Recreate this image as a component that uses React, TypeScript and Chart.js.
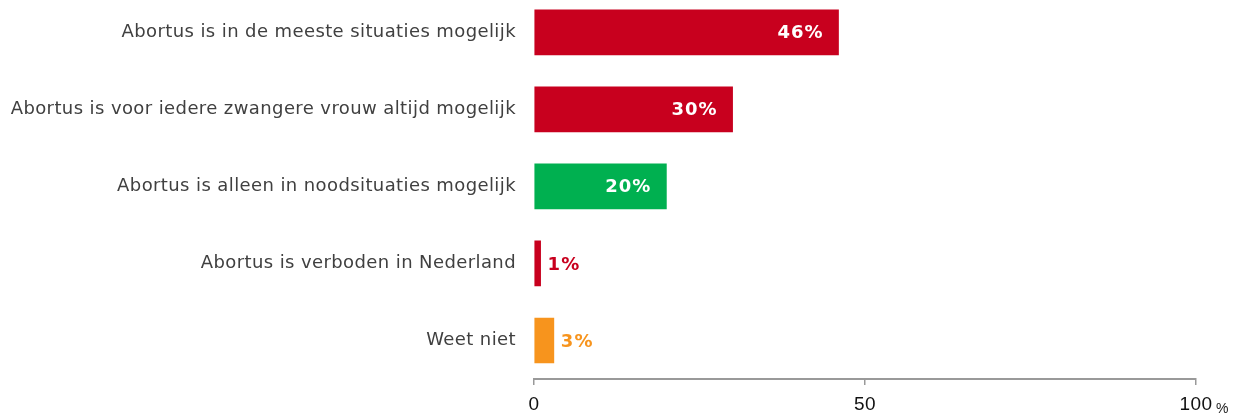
import React, { useEffect, useRef } from "react";
import { Chart, registerables } from "chart.js";

Chart.register(...registerables);

const categories = [
  "Abortus is in de meeste situaties mogelijk",
  "Abortus is voor iedere zwangere vrouw altijd mogelijk",
  "Abortus is alleen in noodsituaties mogelijk",
  "Abortus is verboden in Nederland",
  "Weet niet",
];
const values = [46, 30, 20, 1, 3];
const barColors = ["#C8001E", "#C8001E", "#00B050", "#C8001E", "#F7941D"];
const tickValues = [0, 50, 100];

const spacingPlugin = {
  id: "spacing",
  beforeDraw(chart: any) {
    (chart.ctx as any).letterSpacing = "0.4px";
  },
  beforeDatasetsDraw(chart: any) {
    (chart.ctx as any).letterSpacing = "0px";
  },
};

const valueLabelPlugin = {
  id: "valueLabels",
  afterDatasetsDraw(chart: any) {
    const { ctx } = chart;
    const meta = chart.getDatasetMeta(0);
    ctx.save();
    ctx.font = "bold 18px 'DejaVu Sans'";
    (ctx as any).letterSpacing = "1px";
    ctx.textBaseline = "middle";
    meta.data.forEach((bar: any, i: number) => {
      const v = values[i];
      const text = v + "%";
      if (v >= 10) {
        ctx.fillStyle = "#FFFFFF";
        ctx.textAlign = "right";
        ctx.fillText(text, bar.x - 15, bar.y + 1);
      } else {
        ctx.fillStyle = barColors[i];
        ctx.textAlign = "left";
        ctx.fillText(text, bar.x + 7, bar.y + 2);
      }
    });
    (ctx as any).letterSpacing = "0px";
    const xs = chart.scales.x;
    const px = xs.getPixelForValue(tickValues[tickValues.length - 1]);
    ctx.font = "14px 'Liberation Sans'";
    ctx.fillStyle = "#222222";
    ctx.textAlign = "left";
    ctx.textBaseline = "alphabetic";
    ctx.fillText("%", px + 20, xs.bottom - 2);
    ctx.restore();
  },
};

export default function App() {
  const ref = useRef<HTMLCanvasElement>(null);
  useEffect(() => {
    if (!ref.current) return;
    const chart = new Chart(ref.current, {
      type: "bar",
      data: {
        labels: categories,
        datasets: [
          {
            data: values,
            backgroundColor: barColors,
            borderWidth: 0,
            barThickness: 45,
          },
        ],
      },
      options: {
        indexAxis: "y",
        animation: false,
        responsive: false,
        maintainAspectRatio: false,
        layout: { padding: { left: 0, right: 46, top: 0, bottom: 0 } },
        plugins: {
          legend: { display: false },
          tooltip: { enabled: false },
        },
        scales: {
          x: {
            type: "linear",
            min: 0,
            max: 100,
            afterBuildTicks: (scale: any) => {
              scale.ticks = tickValues.map((v) => ({ value: v }));
            },
            afterFit: (scale: any) => {
              scale.height = 36;
            },
            grid: {
              drawOnChartArea: false,
              drawTicks: true,
              tickLength: 6,
              color: "#999999",
              lineWidth: 1.5,
            },
            border: { display: true, color: "#999999", width: 2 },
            ticks: {
              color: "#111111",
              font: { family: "'Liberation Sans'", size: 19 },
              padding: 8,
              maxRotation: 0,
            },
          },
          y: {
            afterFit: (scale: any) => {
              scale.width = 534;
            },
            grid: { display: false, drawTicks: false },
            border: { display: false },
            ticks: {
              color: "#404040",
              font: { family: "'DejaVu Sans'", size: 18 },
              padding: 18,
            },
          },
        },
      },
      plugins: [spacingPlugin, valueLabelPlugin],
    });
    return () => chart.destroy();
  }, []);
  return (
    <div style={{ position: "absolute", left: 0, top: -35, width: 1242, height: 450 }}>
      <canvas ref={ref} width={1242} height={450} style={{ width: 1242, height: 450 }} />
    </div>
  );
}
